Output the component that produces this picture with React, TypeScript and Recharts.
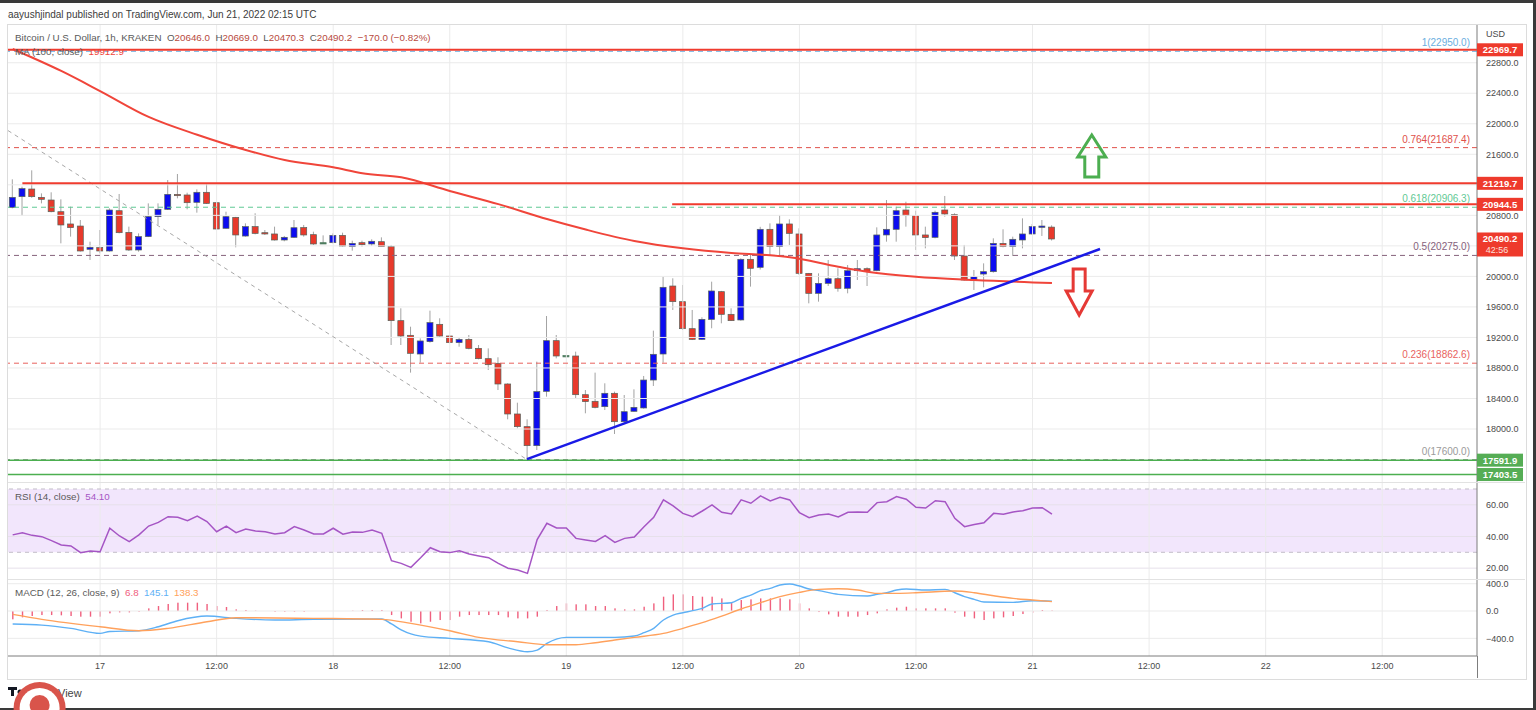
import React from "react";
import {
  Bar,
  ComposedChart,
  Line,
  ReferenceArea,
  ReferenceDot,
  ReferenceLine,
  XAxis,
  YAxis,
} from "recharts";

const FONT = '"Liberation Sans", Arial, sans-serif';

/* =========================
   Data
========================= */

// hourly candles, index 0 = Jun 16 15:00, index 107 = Jun 21 02:00
const OPEN = [
  20905, 21045, 21145, 21036, 21001, 20848, 20687, 20660, 20355, 20377,
  20333, 20861, 20577, 20346, 20521, 20783, 20879, 21075, 21067, 20971,
  21102, 20966, 20630, 20774, 20529, 20652, 20573, 20556, 20477, 20512,
  20639, 20547, 20442, 20442, 20538, 20390, 20442, 20425, 20455, 20390,
  19420, 19228, 18983, 19145, 19372, 19219, 19132, 19175, 19057, 18922,
  18861, 18590, 18197, 18031, 17782, 18494, 19158, 18957, 18957, 18450,
  18363, 18293, 18468, 18096, 18232, 18276, 18642, 18983, 19874, 19669,
  19315, 19175, 19437, 19800, 19503, 19429, 20224, 20119, 20617, 20390,
  20687, 20556, 20040, 19778, 19909, 19970, 19844, 20075, 20101, 20075,
  20543, 20617, 20870, 20796, 20543, 20512, 20870, 20809, 20267, 19944,
  20031, 20062, 20433, 20390, 20477, 20556, 20652, 20646,
];
const CLOSE = [
  21036, 21150, 21045, 21010, 20848, 20674, 20639, 20333, 20381, 20333,
  20870, 20573, 20346, 20521, 20783, 20879, 21075, 21058, 20966, 21102,
  20957, 20621, 20783, 20543, 20652, 20564, 20556, 20477, 20512, 20638,
  20543, 20425, 20442, 20538, 20398, 20433, 20416, 20460, 20390, 19420,
  19219, 18992, 19154, 19394, 19219, 19132, 19175, 19057, 18922, 18843,
  18590, 18197, 18031, 17782, 18490, 19158, 18957, 18962, 18450, 18359,
  18284, 18468, 18096, 18227, 18284, 18642, 18979, 19857, 19669, 19315,
  19175, 19437, 19809, 19503, 19420, 20224, 20106, 20617, 20390, 20687,
  20564, 20040, 19778, 19909, 19970, 19844, 20075, 20101, 20066, 20543,
  20617, 20861, 20796, 20543, 20508, 20840, 20818, 20267, 19953, 19996,
  20062, 20433, 20390, 20486, 20556, 20652, 20660, 20490.2,
];
const HIGH = [
  21272, 21176, 21390, 21088, 21102, 21010, 20914, 20739, 20455, 20608,
  20892, 21080, 20652, 20564, 20957, 20957, 21263, 21342, 21097, 21141,
  21211, 20975, 20848, 20780, 20695, 20827, 20608, 20652, 20530, 20739,
  20674, 20586, 20538, 20564, 20573, 20468, 20468, 20486, 20512, 20412,
  19582, 19341, 19188, 19551, 19451, 19232, 19202, 19232, 19101, 19057,
  18940, 18600, 18345, 18127, 18883, 19481, 19232, 18970, 19014, 18511,
  18739, 18599, 18490, 18446, 18520, 18695, 19289, 19997, 19975, 19887,
  19560, 19464, 19931, 19810, 19582, 20237, 20280, 20650, 20695, 20805,
  20748, 20630, 20045, 20040, 20215, 20106, 20149, 20215, 20119, 20643,
  21001, 20914, 20979, 20861, 20652, 20861, 21054, 20827, 20412, 20084,
  20171, 20499, 20617, 20521, 20761, 20687, 20739, 20669,
];
const LOW = [
  20892, 20796, 21030, 20957, 20840, 20433, 20521, 20325, 20215, 20302,
  20324, 20564, 20333, 20324, 20515, 20674, 20870, 21023, 20879, 20835,
  20950, 20615, 20625, 20381, 20521, 20551, 20543, 20470, 20460, 20503,
  20521, 20412, 20425, 20433, 20390, 20337, 20390, 20398, 20390, 19101,
  19101, 18739, 18870, 19132, 19210, 19123, 19079, 19044, 18913, 18774,
  18511, 18127, 18009, 17600, 17725, 18424, 18926, 18940, 18402, 18206,
  18271, 18249, 17935, 18083, 18227, 18267, 18564, 18870, 19560, 19298,
  19166, 19166, 19320, 19385, 19415, 19420, 19866, 20090, 20280, 20280,
  20412, 20018, 19647, 19669, 19874, 19800, 19778, 19953, 19874, 20066,
  20455, 20455, 20652, 20346, 20368, 20499, 20783, 20215, 19944, 19822,
  19857, 20049, 20381, 20267, 20368, 20543, 20530, 20470.3,
];

// MA(100) read at some candles: [candle index, value]
const MA_POINTS: [number, number][] = [
  [0, 22980], [5, 22692], [9, 22429], [14, 22090], [19, 21856], [24, 21656],
  [28, 21525], [33, 21430], [36, 21351], [40, 21299], [45, 21119], [50, 20947],
  [55, 20752], [59, 20614], [64, 20464], [69, 20368], [74, 20307], [78, 20277],
  [80, 20251], [85, 20127], [88, 20062], [93, 19996], [99, 19953], [107, 19913],
];

const RSI = [
  41, 42.4, 40.7, 39.9, 37.4, 34.6, 34.0, 29.8, 30.8, 30.4,
  45.2, 40.3, 36.7, 41.0, 46.6, 48.9, 52.5, 52.1, 50.0, 52.9,
  49.4, 43.0, 46.6, 42.4, 44.7, 43.5, 43.0, 41.6, 42.4, 46.2,
  44.1, 41.6, 41.6, 45.2, 41.4, 42.8, 42.6, 44.1, 42.0, 24.7,
  23.0, 20.5, 26.5, 32.9, 30.4, 29.8, 31.0, 28.9, 27.7, 26.6,
  23.0, 19.9, 18.8, 16.7, 38.0, 48.3, 45.4, 45.4, 38.8, 37.8,
  36.9, 40.5, 36.3, 38.8, 39.7, 46.2, 52.1, 63.1, 59.3, 54.6,
  52.5, 56.1, 59.9, 55.3, 54.2, 63.1, 61.0, 65.6, 62.4, 64.7,
  63.1, 55.1, 51.9, 53.6, 54.2, 52.3, 55.3, 55.5, 55.3, 61.4,
  62.0, 65.2, 63.5, 58.4, 58.0, 62.6, 62.0, 51.5, 46.2, 47.5,
  48.7, 54.6, 54.0, 55.5, 56.3, 58.0, 58.2, 54.1,
];

const HIST = [
  -122, -93, -73, -59, -59, -63, -73, -83, -83, -83,
  -34, -20, -20, -10, 39, 73, 103, 122, 122, 122,
  103, 73, 59, 24, 15, 5, 0, -10, -10, -10,
  -10, 0, 0, 0, 0, 5, 15, 15, 15, -59,
  -108, -157, -181, -157, -132, -132, -83, -59, -59, -59,
  -59, -93, -108, -108, -83, 15, 73, 112, 98, 98,
  73, 73, 39, 24, 24, 63, 112, 210, 244, 244,
  220, 210, 210, 185, 122, 161, 171, 185, 185, 185,
  171, 112, 39, -15, -49, -83, -83, -83, -59, -34,
  24, 49, 63, 39, 39, 39, 39, -24, -83, -108,
  -132, -108, -93, -73, -44, -24, 15, 6.8,
];

const MACD_POINTS: [number, number][] = [
  [0, -191], [3, -206], [6, -254], [9, -328], [10, -300], [13, -289], [15, -230],
  [17, -142], [20, -74], [23, -108], [27, -132], [31, -122], [38, -118], [39, -190],
  [40, -275], [41, -335], [42, -367], [45, -401], [49, -450], [51, -540], [53, -596],
  [54, -572], [55, -474], [57, -386], [60, -386], [62, -386], [64, -367], [65, -318],
  [66, -254], [67, -132], [68, -59], [69, -25], [70, 5], [71, 39], [72, 103],
  [74, 122], [75, 185], [76, 234], [77, 298], [78, 332], [79, 381], [80, 395],
  [81, 366], [82, 322], [83, 298], [85, 244], [88, 220], [89, 244], [90, 268],
  [91, 307], [92, 322], [94, 307], [96, 317], [97, 268], [98, 210], [99, 171],
  [100, 132], [103, 127], [105, 151], [107, 145.1],
];

const SIGNAL_POINTS: [number, number][] = [
  [0, -50], [3, -122], [9, -230], [13, -289], [16, -254], [20, -157], [23, -98],
  [31, -108], [38, -122], [41, -181], [45, -289], [48, -386], [52, -450], [55, -494],
  [58, -494], [60, -464], [62, -425], [64, -386], [67, -328], [69, -254], [71, -171],
  [73, -74], [75, 29], [77, 122], [79, 210], [81, 273], [83, 317], [85, 327],
  [87, 307], [89, 259], [91, 259], [93, 268], [95, 283], [97, 293], [99, 268],
  [101, 224], [103, 185], [105, 161], [107, 138.3],
];

const X_TICKS = [9, 21, 33, 45, 57, 69, 81, 93, 105, 117, 129, 141];
const X_LABELS = ["17", "12:00", "18", "12:00", "19", "12:00", "20", "12:00", "21", "12:00", "22", "12:00"];
const X_DOMAIN: [number, number] = [-0.48, 150.76];

const PRICE_TICKS = [18000, 18400, 18800, 19200, 19600, 20000, 20400, 20800, 21200, 21600, 22000, 22400, 22800];
// 20400 and 21200 sit under the price badges, so they carry no label
const PRICE_LABEL_TICKS = [18000, 18400, 18800, 19200, 19600, 20000, 20800, 21600, 22000, 22400, 22800];
const PRICE_DOMAIN: [number, number] = [17305.7, 23294.5];
const RSI_TICKS = [20, 40, 60];
const RSI_DOMAIN: [number, number] = [13.13, 74.42];
const MACD_TICKS = [-400, 0, 400];
const MACD_DOMAIN: [number, number] = [-659, 469];

const FIB_RATIOS = ["1", "0.764", "0.618", "0.5", "0.236", "0"];
const FIB_PRICES = [22950, 21687.4, 20906.3, 20275, 18862.6, 17600];
const FIB_COLORS = ["#6aaee0", "#e0504a", "#5fc994", "#86627c", "#e8625e", "#9a9a9a"];

const RED_LEVELS = [22969.7, 21219.7, 20944.5];
const RED_LEVEL_FROM = [-0.48, 1.0, 67.9];
const GREEN_LEVELS = [17591.9, 17403.5];
const LAST_PRICE = 20490.2;

const FIB_DIAGONAL: [number, number][] = [[-0.48, 21911], [52.95, 17600]];
const TRENDLINE: [number, number][] = [[52.95, 17605], [111.95, 20359]];
const ARROW_UP: [number, number] = [111.1, 21578];
const ARROW_DOWN: [number, number] = [109.8, 19795];

/* =========================
   Table for the charts
========================= */

const maMap = new Map(MA_POINTS);
const macdMap = new Map(MACD_POINTS);
const sigMap = new Map(SIGNAL_POINTS);

const data = OPEN.map((o, i) => ({
  i,
  o,
  h: HIGH[i],
  l: LOW[i],
  c: CLOSE[i],
  range: [LOW[i], HIGH[i]],
  ma: maMap.get(i) ?? null,
  rsi: RSI[i],
  hist: HIST[i],
  macd: macdMap.get(i) ?? null,
  signal: sigMap.get(i) ?? null,
}));

/* =========================
   Shapes
========================= */

function Candle(props: any) {
  const { x, y, width, height, payload } = props;
  if (!payload || !Number.isFinite(y)) return null;
  const { o, h, l, c } = payload;
  const top = Math.min(y, y + height);
  const span = Math.abs(height);
  const k = h > l ? span / (h - l) : 0;
  const bTop = top + (h - Math.max(o, c)) * k;
  const bBot = top + (h - Math.min(o, c)) * k;
  const cx = x + width / 2;
  const flat = Math.abs(c - o) < 8;
  const fill = flat ? "#4b7a5c" : c > o ? "#0c0cf0" : "#e8392b";
  return (
    <g>
      <line x1={cx} x2={cx} y1={top} y2={top + span} stroke="#a3a3a3" strokeWidth={1} />
      <rect
        x={x + 0.5}
        y={bTop}
        width={width - 1}
        height={Math.max(1.3, bBot - bTop)}
        fill={fill}
        stroke={flat ? "#4b7a5c" : "#56625a"}
        strokeWidth={0.7}
      />
    </g>
  );
}

function HistBar(props: any) {
  const { x, y, width, height } = props;
  if (!Number.isFinite(y) || !height) return null;
  const top = Math.min(y, y + height);
  return <rect x={x + width / 2 - 0.7} y={top} width={1.4} height={Math.abs(height)} fill="#f0607e" />;
}

function Badge(props: any) {
  const { viewBox, text, sub, color } = props;
  if (!viewBox) return null;
  const x = viewBox.x + viewBox.width;
  const y = viewBox.y;
  return (
    <g>
      <rect x={x} y={y - 6.5} width={46} height={sub ? 24 : 13} fill={color} />
      <text x={x + 23} y={y + 3.4} textAnchor="middle" fill="#fff" fontSize={9.5} fontWeight={700} fontFamily={FONT}>
        {text}
      </text>
      {sub && (
        <text x={x + 20} y={y + 14.2} textAnchor="middle" fill="#fde0dc" fontSize={9} fontFamily={FONT}>
          {sub}
        </text>
      )}
    </g>
  );
}

function FibLabel(props: any) {
  const { viewBox, text, color } = props;
  if (!viewBox) return null;
  return (
    <text
      x={viewBox.x + viewBox.width - 7}
      y={viewBox.y - 5}
      textAnchor="end"
      fill={color}
      fontSize={10}
      fontFamily={FONT}
    >
      {text}
    </text>
  );
}

function ArrowUp(props: any) {
  const { cx, cy } = props;
  const d = `M${cx},${cy - 21} L${cx + 14},${cy + 1} L${cx + 7},${cy + 1} L${cx + 7},${cy + 21} L${cx - 7},${cy + 21} L${cx - 7},${cy + 1} L${cx - 14},${cy + 1} Z`;
  return <path d={d} fill="none" stroke="#4cae50" strokeWidth={3} />;
}

function ArrowDown(props: any) {
  const { cx, cy } = props;
  const d = `M${cx - 6},${cy - 23} L${cx + 6},${cy - 23} L${cx + 6},${cy - 1} L${cx + 13},${cy - 1} L${cx},${cy + 23} L${cx - 13},${cy - 1} L${cx - 6},${cy - 1} Z`;
  return <path d={d} fill="none" stroke="#e53935" strokeWidth={3} />;
}

const GRID = "#ebebeb";
const AXIS_TICK = { fontSize: 9, fill: "#4a4a4a", fontFamily: FONT };

function VGrid() {
  return X_TICKS.map((t) => <ReferenceLine key={"v" + t} x={t} stroke={GRID} strokeWidth={1} />);
}

/* =========================
   App
========================= */

export default function App() {
  return (
    <div
      style={{
        position: "absolute",
        left: 0,
        top: 0,
        width: 1536,
        height: 710,
        background: "#fff",
        overflow: "hidden",
        fontFamily: FONT,
      }}
    >
      <div style={{ position: "absolute", left: 0, top: 0, width: 1536, height: 3, background: "#3a3a3a" }} />
      <div style={{ position: "absolute", right: 0, top: 0, width: 3, height: 710, background: "#3a3a3a" }} />
      <div style={{ position: "absolute", left: 0, bottom: 0, width: 1536, height: 2, background: "#3a3a3a" }} />

      <div style={{ position: "absolute", left: 8, top: 8, fontSize: 10, lineHeight: "13px", color: "#3c3c3c", whiteSpace: "nowrap" }}>
        aayushjindal published on TradingView.com, Jun 21, 2022 02:15 UTC
      </div>

      {/* card frame */}
      <div style={{ position: "absolute", left: 7, top: 24, width: 1518, height: 654, border: "1px solid #dcdcdc" }} />

      {/* main price pane */}
      <div style={{ position: "absolute", left: 8, top: 25 }}>
        <ComposedChart width={1517} height={457} data={data} margin={{ top: 0, right: 0, bottom: 0, left: 0 }}>
          <XAxis type="number" dataKey="i" domain={X_DOMAIN} allowDataOverflow hide />
          <YAxis
            type="number"
            orientation="right"
            width={48}
            domain={PRICE_DOMAIN}
            allowDataOverflow
            ticks={PRICE_LABEL_TICKS}
            interval={0}
            tickSize={0}
            tickMargin={9}
            tickLine={false}
            axisLine={{ stroke: "#7d7d7d" }}
            tick={AXIS_TICK}
            tickFormatter={(v: number) => v.toFixed(1)}
          />
          {PRICE_TICKS.map((t) => (
            <ReferenceLine key={"h" + t} y={t} stroke={GRID} strokeWidth={1} />
          ))}
          {VGrid()}

          {FIB_PRICES.map((p, k) => (
            <ReferenceLine
              key={"fib" + k}
              y={p}
              stroke={FIB_COLORS[k]}
              strokeDasharray="5 4"
              strokeWidth={1}
              label={<FibLabel text={`${FIB_RATIOS[k]}(${p.toFixed(1)})`} color={FIB_COLORS[k]} />}
            />
          ))}
          <ReferenceLine
            segment={FIB_DIAGONAL.map(([x, y]) => ({ x, y }))}
            stroke="#a8a8a8"
            strokeDasharray="4 4"
            strokeWidth={1}
            ifOverflow="visible"
          />

          <Bar dataKey="range" barSize={7} shape={Candle} isAnimationActive={false} />
          <Line
            dataKey="ma"
            type="monotone"
            connectNulls
            dot={false}
            stroke="#f0453a"
            strokeWidth={2}
            isAnimationActive={false}
          />

          {RED_LEVELS.map((p, k) => (
            <ReferenceLine
              key={"rl" + k}
              segment={[
                { x: RED_LEVEL_FROM[k], y: p },
                { x: X_DOMAIN[1], y: p },
              ]}
              stroke="#f03b2e"
              strokeWidth={2}
              ifOverflow="visible"
            />
          ))}
          {GREEN_LEVELS.map((p, k) => (
            <ReferenceLine key={"gl" + k} y={p} stroke="#4caf50" strokeWidth={1.5} />
          ))}
          <ReferenceLine
            segment={TRENDLINE.map(([x, y]) => ({ x, y }))}
            stroke="#1a1ae6"
            strokeWidth={2.5}
            ifOverflow="visible"
          />
          <ReferenceDot x={ARROW_UP[0]} y={ARROW_UP[1]} r={0} shape={ArrowUp} ifOverflow="visible" />
          <ReferenceDot x={ARROW_DOWN[0]} y={ARROW_DOWN[1]} r={0} shape={ArrowDown} ifOverflow="visible" />
        </ComposedChart>
      </div>

      {/* price badges, drawn over the price axis */}
      <div style={{ position: "absolute", left: 8, top: 25 }}>
        <ComposedChart width={1517} height={457} data={data} margin={{ top: 0, right: 0, bottom: 0, left: 0 }}>
          <XAxis type="number" dataKey="i" domain={X_DOMAIN} allowDataOverflow hide />
          <YAxis
            type="number"
            orientation="right"
            width={48}
            domain={PRICE_DOMAIN}
            allowDataOverflow
            tick={false}
            tickLine={false}
            axisLine={false}
          />
          <Line dataKey="c" stroke="none" dot={false} isAnimationActive={false} />
          {RED_LEVELS.map((p, k) => (
            <ReferenceLine key={"rb" + k} y={p} stroke="none" label={<Badge text={p.toFixed(1)} color="#ee3a2c" />} />
          ))}
          <ReferenceLine y={LAST_PRICE} stroke="none" label={<Badge text={LAST_PRICE.toFixed(1)} sub="42:56" color="#ee3a2c" />} />
          {GREEN_LEVELS.map((p, k) => (
            <ReferenceLine key={"gb" + k} y={p} stroke="none" label={<Badge text={p.toFixed(1)} color="#55ad55" />} />
          ))}
        </ComposedChart>
      </div>

      {/* RSI pane */}
      <div style={{ position: "absolute", left: 8, top: 482 }}>
        <ComposedChart width={1517} height={97} data={data} margin={{ top: 0, right: 0, bottom: 0, left: 0 }}>
          <XAxis type="number" dataKey="i" domain={X_DOMAIN} allowDataOverflow hide />
          <YAxis
            type="number"
            orientation="right"
            width={48}
            domain={RSI_DOMAIN}
            allowDataOverflow
            ticks={RSI_TICKS}
            interval={0}
            tickSize={0}
            tickMargin={9}
            tickLine={false}
            axisLine={{ stroke: "#7d7d7d" }}
            tick={AXIS_TICK}
            tickFormatter={(v: number) => v.toFixed(2)}
          />
          <ReferenceArea y1={30} y2={70} fill="#f2e6fc" fillOpacity={1} stroke="none" />
          {RSI_TICKS.map((t) => (
            <ReferenceLine key={"rh" + t} y={t} stroke="#e6e0ea" strokeWidth={1} />
          ))}
          {VGrid()}
          <ReferenceLine y={70} stroke="#c2bdc8" strokeDasharray="4 4" />
          <ReferenceLine y={30} stroke="#c2bdc8" strokeDasharray="4 4" />
          <Line dataKey="rsi" type="linear" dot={false} stroke="#a555c4" strokeWidth={1.5} isAnimationActive={false} />
        </ComposedChart>
      </div>

      {/* MACD pane */}
      <div style={{ position: "absolute", left: 8, top: 579 }}>
        <ComposedChart width={1517} height={99} data={data} margin={{ top: 0, right: 0, bottom: 0, left: 0 }}>
          <XAxis
            type="number"
            dataKey="i"
            domain={X_DOMAIN}
            allowDataOverflow
            ticks={X_TICKS}
            interval={0}
            height={22}
            tickSize={0}
            tickMargin={7}
            tickLine={false}
            axisLine={{ stroke: "#7d7d7d" }}
            tick={AXIS_TICK}
            tickFormatter={(v: number) => X_LABELS[X_TICKS.indexOf(v)] ?? ""}
          />
          <YAxis
            type="number"
            orientation="right"
            width={48}
            domain={MACD_DOMAIN}
            allowDataOverflow
            ticks={MACD_TICKS}
            interval={0}
            tickSize={0}
            tickMargin={9}
            tickLine={false}
            axisLine={{ stroke: "#7d7d7d" }}
            tick={AXIS_TICK}
            tickFormatter={(v: number) => v.toFixed(1).replace("-", "\u2212")}
          />
          {MACD_TICKS.map((t) => (
            <ReferenceLine key={"mh" + t} y={t} stroke={GRID} strokeWidth={1} />
          ))}
          {VGrid()}
          <Bar dataKey="hist" barSize={2} shape={HistBar} isAnimationActive={false} />
          <Line dataKey="macd" type="monotone" connectNulls dot={false} stroke="#5eb0f5" strokeWidth={1.4} isAnimationActive={false} />
          <Line dataKey="signal" type="monotone" connectNulls dot={false} stroke="#ffa15c" strokeWidth={1.4} isAnimationActive={false} />
        </ComposedChart>
      </div>

      {/* pane separators and axis extension */}
      <div style={{ position: "absolute", left: 8, top: 482, width: 1517, height: 1, background: "#e2e2e2" }} />
      <div style={{ position: "absolute", left: 8, top: 579, width: 1517, height: 1, background: "#e2e2e2" }} />
      <div style={{ position: "absolute", left: 1477, top: 656, width: 1, height: 22, background: "#7d7d7d" }} />

      {/* legends */}
      <div style={{ position: "absolute", left: 15, top: 31, fontSize: 9.8, lineHeight: "13px", color: "#5a5a5a", whiteSpace: "nowrap" }}>
        Bitcoin / U.S. Dollar, 1h, KRAKEN&nbsp;&nbsp;O<span style={{ color: "#b84a40" }}>20646.0</span>&nbsp;&nbsp;H
        <span style={{ color: "#b84a40" }}>20669.0</span>&nbsp;&nbsp;L<span style={{ color: "#b84a40" }}>20470.3</span>&nbsp;&nbsp;C
        <span style={{ color: "#b84a40" }}>20490.2</span>&nbsp;&nbsp;<span style={{ color: "#b84a40" }}>−170.0 (−0.82%)</span>
      </div>
      <div style={{ position: "absolute", left: 15, top: 45, fontSize: 9.8, lineHeight: "13px", color: "#5a5a5a", whiteSpace: "nowrap" }}>
        MA (100, close)&nbsp;&nbsp;<span style={{ color: "#f0453a" }}>19912.9</span>
      </div>
      <div style={{ position: "absolute", left: 1486, top: 29, fontSize: 9, color: "#4a4a4a" }}>USD</div>
      <div style={{ position: "absolute", left: 15, top: 490, fontSize: 9.8, lineHeight: "13px", color: "#5a5a5a", whiteSpace: "nowrap" }}>
        RSI (14, close)&nbsp;&nbsp;<span style={{ color: "#a555c4" }}>54.10</span>
      </div>
      <div style={{ position: "absolute", left: 15, top: 586, fontSize: 9.8, lineHeight: "13px", color: "#5a5a5a", whiteSpace: "nowrap" }}>
        MACD (12, 26, close, 9)&nbsp;&nbsp;<span style={{ color: "#f0607e" }}>6.8</span>&nbsp;&nbsp;
        <span style={{ color: "#5eb0f5" }}>145.1</span>&nbsp;&nbsp;<span style={{ color: "#ffa15c" }}>138.3</span>
      </div>

      {/* watermark */}
      <svg style={{ position: "absolute", left: 0, top: 678 }} width={120} height={32}>
        <rect x={8} y={9} width={9} height={3} fill="#131722" />
        <rect x={11} y={9} width={3} height={9} fill="#131722" />
        <circle cx={20} cy={14} r={2.5} fill="#131722" />
        <text x={58} y={19} fontSize={11} fill="#444" fontFamily={FONT}>
          View
        </text>
        <circle cx={39.6} cy={30} r={26} fill="#d9544b" />
        <circle cx={39.6} cy={30} r={20} fill="#fff" />
        <circle cx={39.6} cy={27} r={10} fill="#d9544b" />
      </svg>
    </div>
  );
}
